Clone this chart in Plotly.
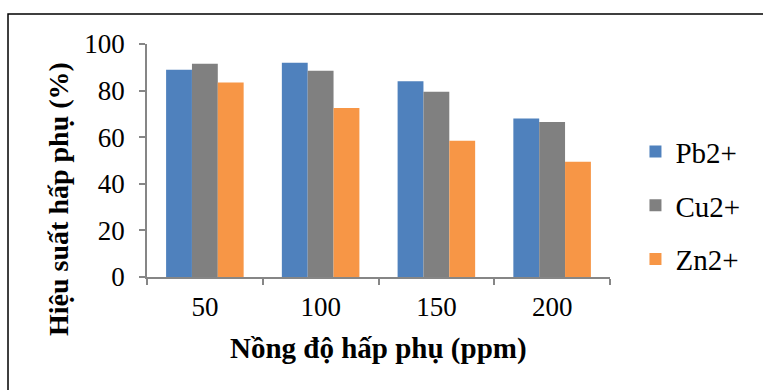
import plotly.graph_objects as go

# Adsorption efficiency (%) by initial concentration (ppm)
concentrations = ["50", "100", "150", "200"]
pb_values = [89, 92, 84, 68]
cu_values = [91.5, 88.5, 79.5, 66.5]
zn_values = [83.5, 72.5, 58.5, 49.5]
y_ticks = [0, 20, 40, 60, 80, 100]

series = [
    ("Pb2+", pb_values, "#4F81BD"),
    ("Cu2+", cu_values, "#808080"),
    ("Zn2+", zn_values, "#F79646"),
]

FONT = "Liberation Serif, Times New Roman, serif"

fig = go.Figure()
for name, vals, color in series:
    fig.add_trace(go.Bar(
        x=concentrations, y=vals, name=name, legendgroup=name,
        marker=dict(color=color, line=dict(width=0)),
    ))

fig.update_layout(
    width=763, height=390,
    margin=dict(l=147, r=153, t=44, b=113),
    paper_bgcolor="white", plot_bgcolor="white",
    font=dict(family=FONT, color="black", size=27),
    barmode="group", bargap=0.33, bargroupgap=0,
    showlegend=True,
    legend=dict(
        x=1.055, xanchor="left", y=0.647, yanchor="top",
        font=dict(family=FONT, size=29, color="black"),
        traceorder="grouped", tracegroupgap=13,
        bgcolor="rgba(0,0,0,0)",
    ),
    xaxis=dict(
        type="category", showgrid=False, zeroline=False,
        showline=True, linecolor="#868686", linewidth=1.5,
        ticks="outside", tickson="boundaries", ticklen=6,
        tickcolor="#868686", tickwidth=1.5,
        tickfont=dict(family=FONT, size=27),
        ticklabelstandoff=5,
    ),
    yaxis=dict(
        range=[0, 100], tickvals=y_ticks, showgrid=False, zeroline=False,
        showline=True, linecolor="#868686", linewidth=1.5,
        ticks="outside", ticklen=6, tickcolor="#868686", tickwidth=1.5,
        tickfont=dict(family=FONT, size=27),
        ticklabelstandoff=9,
    ),
    annotations=[
        dict(text="<b>Nồng độ hấp phụ (ppm)</b>", xref="paper", yref="paper",
             x=0.501, y=-0.305, xanchor="center", yanchor="middle",
             showarrow=False, font=dict(family=FONT, size=29, color="black")),
        dict(text="<b>Hiệu suất hấp phụ (%)</b>", xref="paper", yref="paper",
             x=-0.19, y=0.335, xanchor="center", yanchor="middle",
             textangle=-90, showarrow=False,
             font=dict(family=FONT, size=28, color="black")),
    ],
    shapes=[
        dict(type="rect", xref="paper", yref="paper",
             x0=-0.3002, x1=1.6, y0=-1.0, y1=1.1288,
             line=dict(color="black", width=1.5), fillcolor="rgba(0,0,0,0)",
             layer="below"),
    ],
)

fig.write_html("out.html")
